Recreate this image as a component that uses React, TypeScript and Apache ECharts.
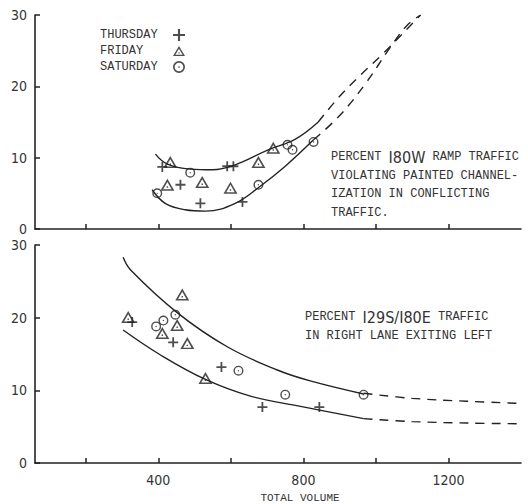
import React, { useEffect, useRef } from "react";
import * as echarts from "echarts";

// ---- Data (x = total volume, y = percent) ----
const thursdayTop = [[411, 8.7], [461, 6.2], [516, 3.6], [590, 8.8], [607, 8.8], [632, 3.8]];
const fridayTop = [[433, 9.4], [425, 6.2], [521, 6.6], [599, 5.8], [676, 9.4], [717, 11.4]];
const saturdayTop = [[397, 5.0], [488, 7.9], [676, 6.2], [756, 11.8], [770, 11.1], [828, 12.2]];

const upperTopSolid = [[392, 10.5], [425, 9.1], [488, 8.4], [549, 8.3], [612, 9.0], [703, 11.1], [778, 12.6], [841, 15.0]];
const upperTopDash = [[841, 15.0], [900, 18.6], [960, 21.7], [1020, 24.6], [1070, 27.2], [1123, 30]];
const lowerTopSolid = [[383, 5.5], [419, 3.6], [474, 2.7], [530, 2.5], [612, 3.6], [681, 6.0], [750, 8.8], [828, 12.5]];
const lowerTopDash = [[828, 12.5], [900, 15.9], [970, 20.3], [1040, 25.5], [1085, 28.5], [1123, 30]];

const thursdayBot = [[328, 19.4], [441, 16.6], [574, 13.2], [687, 7.7], [844, 7.7]];
const fridayBot = [[317, 20.1], [466, 23.2], [452, 19.0], [411, 17.9], [480, 16.5], [530, 11.7]];
const saturdayBot = [[394, 18.8], [414, 19.6], [447, 20.4], [621, 12.7], [750, 9.4], [966, 9.4]];

const upperBotSolid = [[303, 28.3], [323, 26.6], [452, 20.7], [590, 16.0], [728, 12.8], [819, 11.3], [966, 9.5]];
const upperBotDash = [[966, 9.6], [1100, 8.9], [1250, 8.5], [1400, 8.2]];
const lowerBotSolid = [[303, 18.3], [405, 14.9], [530, 11.5], [654, 9.2], [792, 7.8], [966, 6.1]];
const lowerBotDash = [[966, 6.1], [1100, 5.7], [1250, 5.5], [1400, 5.4]];

const xTicks = [200, 400, 600, 800, 1000, 1200];
const xLabels = [400, 800, 1200];
const dayNames = ["THURSDAY", "FRIDAY", "SATURDAY"];

const INK = "#222";
const TXT = "#333";
const MONO = "'Liberation Mono', 'DejaVu Sans Mono', monospace";
const COND = "'DejaVu Sans Condensed', 'Liberation Sans Narrow', 'Roboto Condensed', 'DejaVu Sans', sans-serif";

const PLUS = "path://M4.1,0h1.8v4.1h4.1v1.8h-4.1v4.1h-1.8v-4.1h-4.1v-1.8h4.1Z";
const TRI = "path://M0,10L6,0L12,10Z M2.4,8.8L9.6,8.8L6,2.7Z M5.4,6.3h1.2v1.2h-1.2Z";
const CIRC =
  "path://M0,5a5,5 0 1,0 10,0a5,5 0 1,0 -10,0Z M1.4,5a3.6,3.6 0 1,1 7.2,0a3.6,3.6 0 1,1 -7.2,0Z M4.3,5a0.7,0.7 0 1,0 1.4,0a0.7,0.7 0 1,0 -1.4,0Z";

function xAxisCfg(gridIndex: number, labels: boolean) {
  return {
    type: "value",
    gridIndex,
    min: 60,
    max: 1400,
    axisLine: { show: true, lineStyle: { color: INK, width: 1.6 } },
    axisTick: { show: true, inside: true, length: 5, customValues: xTicks, lineStyle: { color: INK, width: 1.5 } },
    axisLabel: labels
      ? {
          show: true,
          customValues: xLabels,
          margin: 10,
          fontFamily: COND,
          fontSize: 14,
          color: TXT,
          formatter: (v: number) => String(v),
        }
      : { show: false },
    splitLine: { show: false },
  };
}

function yAxisCfg(gridIndex: number) {
  return {
    type: "value",
    gridIndex,
    min: 0,
    max: 30,
    interval: 10,
    axisLine: { show: true, lineStyle: { color: INK, width: 1.6 } },
    axisTick: { show: true, inside: true, length: 5, lineStyle: { color: INK, width: 1.5 } },
    axisLabel: { margin: 8, fontFamily: COND, fontSize: 14, color: TXT },
    splitLine: { show: false },
  };
}

function scatter(name: string, data: number[][], idx: number, symbol: string, size: number[]) {
  return {
    type: "scatter",
    name,
    xAxisIndex: idx,
    yAxisIndex: idx,
    data,
    symbol,
    symbolSize: size,
    itemStyle: { color: INK },
    z: 5,
  };
}

function curve(data: number[][], idx: number, dashed: boolean) {
  return {
    type: "line",
    xAxisIndex: idx,
    yAxisIndex: idx,
    data,
    smooth: 0.4,
    showSymbol: false,
    silent: true,
    lineStyle: { color: INK, width: 1.4, type: dashed ? [9, 7] : "solid" },
    z: 3,
  };
}

export default function App() {
  const ref = useRef<HTMLDivElement>(null);
  useEffect(() => {
    if (!ref.current) return;
    const chart = echarts.init(ref.current, undefined, { renderer: "svg" });
    chart.setOption({
      animation: false,
      backgroundColor: "#fff",
      grid: [
        { left: 35, top: 15, width: 486, height: 214 },
        { left: 35, top: 245, width: 486, height: 218 },
      ],
      xAxis: [xAxisCfg(0, false), xAxisCfg(1, true)],
      yAxis: [yAxisCfg(0), yAxisCfg(1)],
      legend: {
        orient: "vertical",
        left: 95,
        top: 24,
        align: "right",
        itemGap: 4,
        itemWidth: 12,
        itemHeight: 12,
        selectedMode: false,
        formatter: (n: string) => `{a|${n}}`,
        textStyle: {
          fontFamily: MONO,
          fontSize: 12,
          color: TXT,
          rich: { a: { width: 68, align: "left", fontFamily: MONO, fontSize: 12, color: TXT } },
        },
        data: [
          { name: dayNames[0], icon: PLUS },
          { name: dayNames[1], icon: TRI },
          { name: dayNames[2], icon: CIRC },
        ],
      },
      series: [
        curve(upperTopSolid, 0, false),
        curve(upperTopDash, 0, true),
        curve(lowerTopSolid, 0, false),
        curve(lowerTopDash, 0, true),
        curve(upperBotSolid, 1, false),
        curve(upperBotDash, 1, true),
        curve(lowerBotSolid, 1, false),
        curve(lowerBotDash, 1, true),
        scatter(dayNames[0], thursdayTop, 0, PLUS, [10, 10]),
        scatter(dayNames[1], fridayTop, 0, TRI, [14, 12]),
        scatter(dayNames[2], saturdayTop, 0, CIRC, [10, 10]),
        scatter(dayNames[0], thursdayBot, 1, PLUS, [10, 10]),
        scatter(dayNames[1], fridayBot, 1, TRI, [14, 12]),
        scatter(dayNames[2], saturdayBot, 1, CIRC, [10, 10]),
      ],
      graphic: [
        {
          type: "text",
          left: 331,
          top: 148,
          style: {
            text: "PERCENT {b|I80W} RAMP TRAFFIC\nVIOLATING PAINTED CHANNEL-\nIZATION IN CONFLICTING\nTRAFFIC.",
            fontFamily: MONO,
            fontSize: 12,
            lineHeight: 18.5,
            fill: TXT,
            rich: { b: { fontFamily: COND, fontSize: 16, fill: TXT, lineHeight: 18.5 } },
          },
        },
        {
          type: "text",
          left: 305,
          top: 308,
          style: {
            text: "PERCENT {b|I29S/I80E} TRAFFIC\nIN RIGHT LANE EXITING LEFT",
            fontFamily: MONO,
            fontSize: 12,
            lineHeight: 18.5,
            fill: TXT,
            rich: { b: { fontFamily: COND, fontSize: 16, fill: TXT, lineHeight: 18.5 } },
          },
        },
        {
          type: "text",
          x: 300,
          y: 498,
          style: {
            text: "TOTAL VOLUME",
            fontFamily: MONO,
            fontSize: 11,
            fill: TXT,
            align: "center",
            verticalAlign: "middle",
          },
        },
      ],
    });
    return () => chart.dispose();
  }, []);
  return (
    <div
      ref={ref}
      style={{ position: "absolute", left: 0, top: 0, width: 528, height: 504 }}
    />
  );
}
